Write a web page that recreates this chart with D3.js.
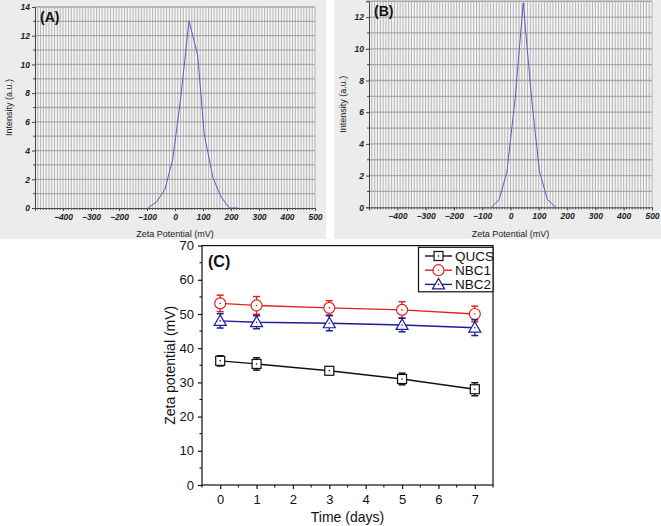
<!DOCTYPE html>
<html><head><meta charset="utf-8">
<script src="https://cdn.jsdelivr.net/npm/d3@7"></script>
<style>body{margin:0;background:#fff;}svg{display:block;font-family:Arial,"Liberation Sans",sans-serif;}</style>
</head><body>
<svg id="chart" width="661" height="526"></svg>
<script>
// Panel A distribution
const aPotential = [-96, -65, -36, -8, 20, 50, 81, 104, 135, 164, 194, 226];
const aIntensity = [0, 0.44, 1.3, 3.4, 7.6, 13.04, 10.65, 5.2, 2.14, 0.79, 0, 0];
// Panel B distribution
const bPotential = [-67, -40, -13, 16, 45, 75, 102, 130, 160];
const bIntensity = [0, 0.5, 2.2, 6.8, 12.9, 6.8, 2.3, 0.5, 0];
const xTickLabels = [-400, -300, -200, -100, 0, 100, 200, 300, 400, 500];
// Panel C
const days = [0, 1, 3, 5, 7];
const qucs = [36.3, 35.4, 33.4, 31.0, 28.0];
const qucsErr = [1.5, 1.8, 1.1, 1.7, 1.9];
const nbc1 = [53.1, 52.5, 51.8, 51.2, 50.0];
const nbc1Err = [2.4, 2.6, 2.1, 2.4, 2.3];
const nbc2 = [48.0, 47.6, 47.3, 46.8, 46.0];
const nbc2Err = [2.1, 1.9, 2.2, 2.0, 2.3];
const seriesNames = ["QUCS", "NBC1", "NBC2"];
const cYTicks = [0, 10, 20, 30, 40, 50, 60, 70];
const cXTicks = [0, 1, 2, 3, 4, 5, 6, 7];

const svg = d3.select("#chart");

function distPanel(o) {
  const g = svg.append("g");
  g.append("rect").attr("x", o.bx0).attr("y", 0).attr("width", o.bx1 - o.bx0).attr("height", 239).attr("fill", "#ececec");
  const x = d3.scaleLinear().domain([-500, 500]).range([o.x0, o.x1]);
  const y = d3.scaleLinear().domain([0, o.ymax]).range([o.y0, o.y1]);
  g.append("rect").attr("x", o.x0).attr("y", o.y1).attr("width", o.x1 - o.x0).attr("height", o.y0 - o.y1).attr("fill", "#f4f4f4");
  // vertical grid every 10 mV
  g.append("g").selectAll("line").data(d3.range(-490, 501, 10)).join("line")
    .attr("x1", d => x(d)).attr("x2", d => x(d)).attr("y1", o.y1).attr("y2", o.y0)
    .attr("stroke", "#b4b4b4").attr("stroke-width", 1);
  // horizontal grid every 1
  g.append("g").selectAll("line").data(d3.range(1, Math.floor(o.ymax) + 1)).join("line")
    .attr("x1", o.x0).attr("x2", o.x1).attr("y1", d => y(d)).attr("y2", d => y(d))
    .attr("stroke", "#a8a8a8").attr("stroke-width", 1.3);
  // curve
  const line = d3.line().x(d => x(d[0])).y(d => y(d[1]));
  g.append("path").datum(d3.zip(o.px, o.py)).attr("d", line).attr("fill", "none")
    .attr("stroke", "#5c5cc4").attr("stroke-width", 1);
  // axes
  const yAxis = d3.axisLeft(y).tickValues(d3.range(0, Math.floor(o.ymax) + 1, 2)).tickSize(3).tickPadding(2);
  const ya = g.append("g").attr("transform", `translate(${o.x0},0)`).call(yAxis);
  ya.select(".domain").attr("stroke", "#444");
  ya.selectAll(".tick line").attr("stroke", "#444");
  ya.selectAll("text").attr("font-size", 8.5).attr("font-style", "italic").attr("font-weight", "bold").attr("fill", "#222");
  g.append("g").selectAll("line").data(d3.range(1, Math.floor(o.ymax) + 1, 2)).join("line")
    .attr("x1", o.x0 - 2).attr("x2", o.x0).attr("y1", d => y(d)).attr("y2", d => y(d)).attr("stroke", "#444");
  const xAxis = d3.axisBottom(x).tickValues(xTickLabels).tickSize(3).tickPadding(3);
  const xa = g.append("g").attr("transform", `translate(0,${o.y0})`).call(xAxis);
  xa.select(".domain").attr("stroke", "#444");
  xa.selectAll(".tick line").attr("stroke", "#444");
  xa.selectAll("text").attr("font-size", 8.5).attr("font-style", "italic").attr("font-weight", "bold").attr("fill", "#222");
  g.append("g").selectAll("line").data(d3.range(-490, 500, 10)).join("line")
    .attr("x1", d => x(d)).attr("x2", d => x(d)).attr("y1", o.y0).attr("y2", o.y0 + 2).attr("stroke", "#555");
  g.append("text").attr("x", (o.x0 + o.x1) / 2).attr("y", 237).attr("text-anchor", "middle")
    .attr("font-size", 9).attr("fill", "#222").text("Zeta Potential (mV)");
  g.append("text").attr("transform", `translate(${o.bx0 + 12},${(o.y0 + o.y1) / 2}) rotate(-90)`).attr("text-anchor", "middle")
    .attr("font-size", 9).attr("fill", "#222").text("Intensity (a.u.)");
  g.append("text").attr("x", o.x0 + 5).attr("y", o.y1 + 15).attr("font-size", 14).attr("font-weight", "bold").attr("fill", "#111").text(o.label);
}

distPanel({bx0: 0, bx1: 326, x0: 35, x1: 315, y0: 208, y1: 7, ymax: 14, px: aPotential, py: aIntensity, label: "(A)"});
distPanel({bx0: 334, bx1: 661, x0: 369, x1: 652, y0: 207.3, y1: 1.25, ymax: 13, px: bPotential, py: bIntensity, label: "(B)"});

// Panel C
const cx0 = 202, cx1 = 493, cy0 = 485, cy1 = 245.6;
const xc = d3.scaleLinear().domain([-0.5, 7.5]).range([cx0, cx1]);
const yc = d3.scaleLinear().domain([0, 70]).range([cy0, cy1]);
const gc = svg.append("g");
const series = [
  {name: seriesNames[0], v: qucs, e: qucsErr, color: "#111111", sym: "square"},
  {name: seriesNames[1], v: nbc1, e: nbc1Err, color: "#dd2222", sym: "circle"},
  {name: seriesNames[2], v: nbc2, e: nbc2Err, color: "#1c1c9c", sym: "triangle"}
];
function marker(sel, sym, color) {
  if (sym === "square") sel.append("rect").attr("x", -4.5).attr("y", -4.5).attr("width", 9).attr("height", 9);
  else if (sym === "circle") sel.append("circle").attr("r", 5.5);
  else sel.append("path").attr("d", "M0,-6L6,4.5L-6,4.5Z");
  sel.selectAll("rect,circle,path").attr("fill", "#fff").attr("stroke", color).attr("stroke-width", 1.2);
  sel.append("circle").attr("r", 0.8).attr("fill", color);
}
series.forEach(s => {
  const pts = days.map((d, i) => ({d, v: s.v[i], e: s.e[i]}));
  const g = gc.append("g");
  // error bars
  pts.forEach(p => {
    g.append("line").attr("x1", xc(p.d)).attr("x2", xc(p.d)).attr("y1", yc(p.v - p.e)).attr("y2", yc(p.v + p.e)).attr("stroke", s.color).attr("stroke-width", 1.3);
    [p.v - p.e, p.v + p.e].forEach(val => g.append("line").attr("x1", xc(p.d) - 3.5).attr("x2", xc(p.d) + 3.5).attr("y1", yc(val)).attr("y2", yc(val)).attr("stroke", s.color).attr("stroke-width", 1.5));
  });
  g.append("path").datum(pts).attr("d", d3.line().x(p => xc(p.d)).y(p => yc(p.v))).attr("fill", "none").attr("stroke", s.color).attr("stroke-width", 1.4);
  pts.forEach(p => marker(g.append("g").attr("transform", `translate(${xc(p.d)},${yc(p.v)})`), s.sym, s.color));
});
// frame
gc.append("rect").attr("x", cx0).attr("y", cy1).attr("width", cx1 - cx0).attr("height", cy0 - cy1).attr("fill", "none").attr("stroke", "#111").attr("stroke-width", 1.2);
const xAxisC = d3.axisBottom(xc).tickValues(cXTicks).tickSize(4).tickPadding(6);
const xac = gc.append("g").attr("transform", `translate(0,${cy0})`).call(xAxisC);
xac.select(".domain").remove();
xac.selectAll(".tick line").attr("stroke", "#111").attr("stroke-width", 1.2);
xac.selectAll("text").attr("font-size", 13).attr("fill", "#111");
gc.append("g").selectAll("line").data(d3.range(-0.5, 7.6, 1)).join("line")
  .attr("x1", d => xc(d)).attr("x2", d => xc(d)).attr("y1", cy0).attr("y2", cy0 + 2.5).attr("stroke", "#111").attr("stroke-width", 1.1);
const yAxisC = d3.axisLeft(yc).tickValues(cYTicks).tickSize(4).tickPadding(4);
const yac = gc.append("g").attr("transform", `translate(${cx0},0)`).call(yAxisC);
yac.select(".domain").remove();
yac.selectAll(".tick line").attr("stroke", "#111").attr("stroke-width", 1.2);
yac.selectAll("text").attr("font-size", 13).attr("fill", "#111");
gc.append("g").selectAll("line").data(d3.range(5, 70, 10)).join("line")
  .attr("x1", cx0 - 2.5).attr("x2", cx0).attr("y1", d => yc(d)).attr("y2", d => yc(d)).attr("stroke", "#111").attr("stroke-width", 1.1);
gc.append("text").attr("x", (cx0 + cx1) / 2).attr("y", 522).attr("text-anchor", "middle").attr("font-size", 14).attr("fill", "#111").text("Time (days)");
gc.append("text").attr("transform", `translate(175,${(cy0 + cy1) / 2}) rotate(-90)`).attr("text-anchor", "middle").attr("font-size", 14).attr("fill", "#111").text("Zeta potential (mV)");
gc.append("text").attr("x", 208).attr("y", 267).attr("font-size", 16).attr("font-weight", "bold").attr("fill", "#111").text("(C)");
// legend
const lg = gc.append("g");
lg.append("rect").attr("x", 418.5).attr("y", 247.3).attr("width", 74.5).attr("height", 44.5).attr("fill", "#fff").attr("stroke", "#111").attr("stroke-width", 1.2);
series.forEach((s, i) => {
  const yy = 256 + i * 14.2;
  lg.append("line").attr("x1", 425).attr("x2", 452).attr("y1", yy).attr("y2", yy).attr("stroke", s.color).attr("stroke-width", 1.4);
  marker(lg.append("g").attr("transform", `translate(438.5,${yy})`), s.sym, s.color);
  lg.append("text").attr("x", 455).attr("y", yy + 4.8).attr("font-size", 13.5).attr("fill", "#111").text(s.name);
});
</script>
</body></html>
